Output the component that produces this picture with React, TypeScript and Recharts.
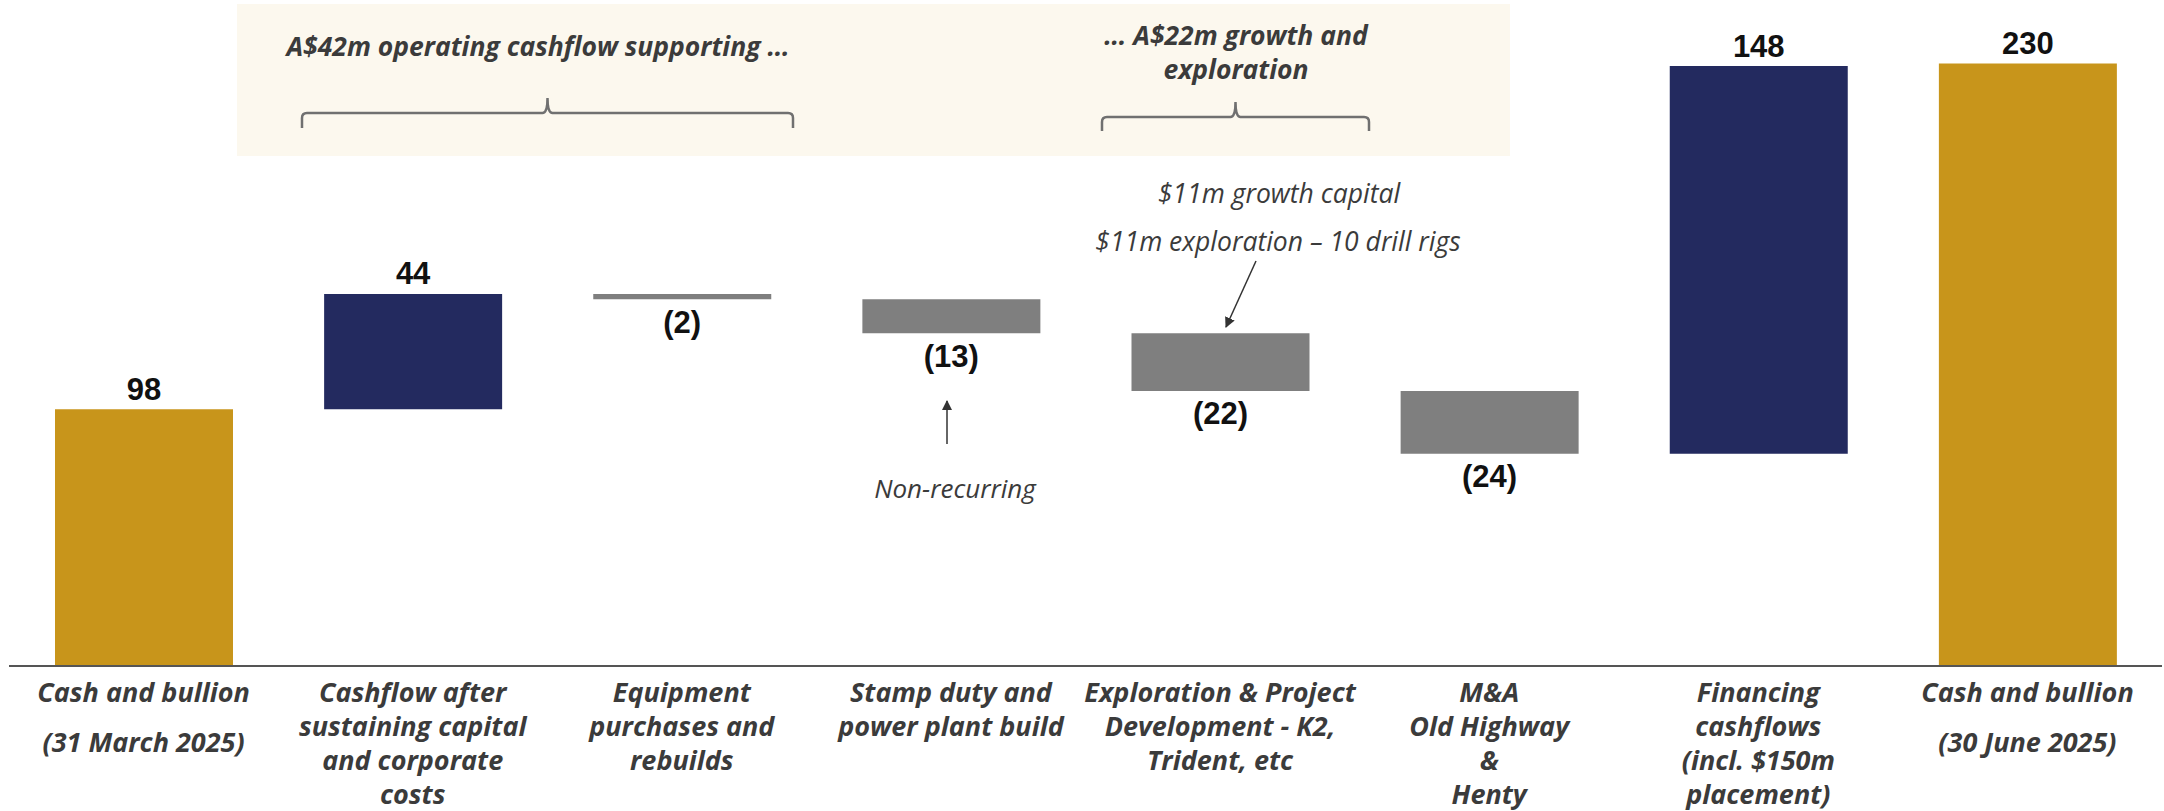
import { BarChart, Bar, XAxis, YAxis, LabelList, Cell } from "recharts";

const categories = [
  "Cash and bullion (31 March 2025)",
  "Cashflow after sustaining capital and corporate costs",
  "Equipment purchases and rebuilds",
  "Stamp duty and power plant build",
  "Exploration & Project Development - K2, Trident, etc",
  "M&A Old Highway & Henty",
  "Financing cashflows (incl. $150m placement)",
  "Cash and bullion (30 June 2025)",
];
const tickLines = [
  ["Cash and bullion", "(31 March 2025)"],
  ["Cashflow after", "sustaining capital", "and corporate", "costs"],
  ["Equipment", "purchases and", "rebuilds"],
  ["Stamp duty and", "power plant build"],
  ["Exploration & Project", "Development - K2,", "Trident, etc"],
  ["M&A", "Old Highway", "&", "Henty"],
  ["Financing", "cashflows", "(incl. $150m", "placement)"],
  ["Cash and bullion", "(30 June 2025)"],
];
const values = [98, 44, -2, -13, -22, -24, 148, 230];
const kinds = ["total", "up", "down", "down", "down", "down", "up", "total"];
const valueLabels = ["98", "44", "(2)", "(13)", "(22)", "(24)", "148", "230"];

const colors: Record<string, string> = { total: "#C8951B", up: "#232A5F", down: "#7F7F7F" };
const textColor = "#3B3B3B";
const labelFont = "'Open Sans', 'Noto Sans', sans-serif";

// waterfall: invisible base + visible step
let running = 0;
const data = categories.map((name, i) => {
  const v = values[i];
  let base = 0;
  let size = 0;
  if (kinds[i] === "total") {
    base = 0;
    size = v;
    running = v;
  } else if (v >= 0) {
    base = running;
    size = v;
    running += v;
  } else {
    running += v;
    base = running;
    size = -v;
  }
  return { name, base, size, label: valueLabels[i], kind: kinds[i] };
});

const Tick = (props: any) => {
  const { x, y, payload } = props;
  const i = payload.index;
  const lines = tickLines[i] || [];
  const gap = kinds[i] === "total" ? 50 : 34;
  return (
    <g>
      {lines.map((t, k) => (
        <text
          key={k}
          x={x}
          y={y + 25 + k * gap}
          textAnchor="middle"
          dominantBaseline="central"
          fontFamily={labelFont}
          fontStyle="italic"
          fontWeight={700}
          fontSize={27}
          fill={textColor}
        >
          {t}
        </text>
      ))}
    </g>
  );
};

const ValueLabel = (props: any) => {
  const { x, y, width, height, value, index } = props;
  const top = Math.min(y, y + height);
  const bottom = Math.max(y, y + height);
  const down = kinds[index] === "down";
  return (
    <text
      x={x + width / 2}
      y={down ? bottom + 23 : top - 20}
      textAnchor="middle"
      dominantBaseline="central"
      fontFamily="'Liberation Sans', Arial, sans-serif"
      fontWeight={700}
      fontSize={31}
      fill="#111"
    >
      {value}
    </text>
  );
};

const Bracket = ({ x1, x2, yTop, yLine, yEnd }: any) => {
  const c = (x1 + x2) / 2;
  return (
    <path
      d={`M${x1},${yEnd} L${x1},${yLine + 5} Q${x1},${yLine} ${x1 + 5},${yLine} L${c - 5},${yLine} Q${c},${yLine} ${c},${yTop} Q${c},${yLine} ${c + 5},${yLine} L${x2 - 5},${yLine} Q${x2},${yLine} ${x2},${yLine + 5} L${x2},${yEnd}`}
      fill="none"
      stroke="#707070"
      strokeWidth={2.5}
    />
  );
};

export default function App() {
  const annot = { fontFamily: labelFont, fontStyle: "italic" as const, fill: textColor };
  return (
    <div style={{ position: "absolute", left: 0, top: 0, width: 2164, height: 811, background: "#fff" }}>
      <svg width={2164} height={811} style={{ position: "absolute", left: 0, top: 0 }}>
        <defs>
          <marker id="ah" viewBox="0 0 10 10" refX="9" refY="5" markerWidth="7" markerHeight="7" orient="auto">
            <path d="M0,0 L10,5 L0,10 z" fill="#333" />
          </marker>
        </defs>
        <rect x={237} y={4} width={1273} height={152} fill="#FCF8EE" />
        <text x={538} y={46} textAnchor="middle" dominantBaseline="central" fontSize={26.5} fontWeight={700} {...annot}>
          A$42m operating cashflow supporting …
        </text>
        <Bracket x1={302} x2={793} yTop={98} yLine={113} yEnd={128} />
        <text x={1236} y={35} textAnchor="middle" dominantBaseline="central" fontSize={26.5} fontWeight={700} {...annot}>
          … A$22m growth and
        </text>
        <text x={1236} y={69} textAnchor="middle" dominantBaseline="central" fontSize={26.5} fontWeight={700} {...annot}>
          exploration
        </text>
        <Bracket x1={1102} x2={1369} yTop={102} yLine={117} yEnd={131} />
        <text x={1279} y={193} textAnchor="middle" dominantBaseline="central" fontSize={26.5} {...annot}>
          $11m growth capital
        </text>
        <text x={1278} y={241} textAnchor="middle" dominantBaseline="central" fontSize={26.5} {...annot}>
          $11m exploration – 10 drill rigs
        </text>
        <line x1={1256} y1={261} x2={1226} y2={327} stroke="#333" strokeWidth={1.5} markerEnd="url(#ah)" />
        <line x1={947} y1={444} x2={947} y2={401} stroke="#333" strokeWidth={1.5} markerEnd="url(#ah)" />
        <text x={955} y={488} textAnchor="middle" dominantBaseline="central" fontSize={26} {...annot}>
          Non-recurring
        </text>
      </svg>
      <div style={{ position: "absolute", left: 0, top: 0 }}>
        <BarChart
          width={2164}
          height={811}
          data={data}
          margin={{ top: 11, right: 2, bottom: 0, left: 9 }}
          barSize={178}
        >
          <XAxis
            dataKey="name"
            interval={0}
            height={145}
            tickLine={false}
            tickSize={0}
            tickMargin={0}
            axisLine={{ stroke: "#555", strokeWidth: 2 }}
            tick={<Tick />}
          />
          <YAxis hide domain={[0, 250]} />
          <Bar dataKey="base" stackId="w" fill="transparent" isAnimationActive={false} />
          <Bar dataKey="size" stackId="w" isAnimationActive={false}>
            {data.map((d, i) => (
              <Cell key={i} fill={colors[d.kind]} />
            ))}
            <LabelList dataKey="label" content={<ValueLabel />} />
          </Bar>
        </BarChart>
      </div>
    </div>
  );
}
